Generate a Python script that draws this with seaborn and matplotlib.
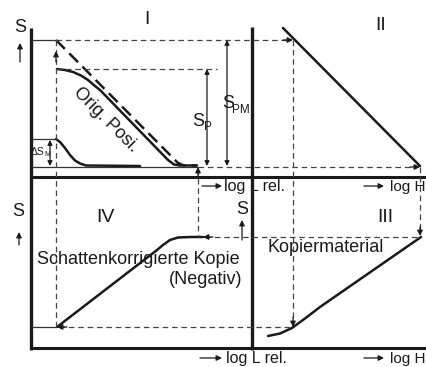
import matplotlib
matplotlib.use("Agg")
import matplotlib.pyplot as plt
import seaborn as sns

# Quadrant I: original positive, density S over log relative luminance
orig_ideal_x = [56, 178, 184, 197]
orig_ideal_y = [40, 163, 165.5, 165.5]
orig_real_x = [57, 65, 73, 81, 88, 95, 100, 168, 174, 180, 197]
orig_real_y = [69, 70, 72, 75.5, 80, 86, 90, 160, 164.5, 165.5, 165.5]
mask_x = [56, 60, 65, 70, 75, 80, 86, 140]
mask_y = [139, 142, 148, 155, 160.5, 163.5, 165.5, 166]

# Quadrant II: density transferred to log exposure H
transfer_x = [283, 420]
transfer_y = [28, 166]

# Quadrant III: copy material characteristic
copy_x = [268, 280, 292, 305, 320, 421]
copy_y = [336, 333.5, 328, 318.5, 307, 237]

# Quadrant IV: shadow-corrected copy (negative)
neg_x = [57, 157, 163, 170, 178, 190, 203]
neg_y = [327, 250, 245, 240, 237.5, 237, 237]

# reference levels of the construction
s_top, s_p_top, s_m_top, s_base = 40, 69, 139, 166
copy_top, copy_low = 237, 327
l_start, l_end, h_start, h_end = 56, 198, 293, 420
x_left, x_mid, y_mid, y_bot = 31, 252, 177, 348

sns.set_theme(style="white")
plt.rcParams["font.family"] = ["Liberation Sans", "DejaVu Sans"]

fig = plt.figure(figsize=(4.27, 3.67), dpi=100)
ax = fig.add_axes([0, 0, 1, 1])
ax.set_xlim(0, 427)
ax.set_ylim(367, 0)
ax.axis("off")

K = "#1a1a1a"
dash = dict(color="#444444", lw=0.9, ls=(0, (4.5, 3)))
thin = dict(color="#333333", lw=0.9)

# main axes of the four quadrants
ax.plot([x_left, x_left], [28, y_bot + 1.5], color=K, lw=2.4, solid_capstyle="butt")
ax.plot([x_mid, x_mid], [27, y_bot + 1.5], color=K, lw=2.4, solid_capstyle="butt")
ax.plot([x_left, 427], [y_mid, y_mid], color=K, lw=2.2)
ax.plot([x_left, 427], [y_bot, y_bot], color=K, lw=2.2)

# curves
for xs, ys, ls in [(orig_ideal_x, orig_ideal_y, (0, (5, 2.5))),
                   (orig_real_x, orig_real_y, "-"),
                   (mask_x, mask_y, "-"),
                   (transfer_x, transfer_y, "-"),
                   (copy_x, copy_y, "-"),
                   (neg_x, neg_y, "-")]:
    sns.lineplot(x=xs, y=ys, sort=False, estimator=None, ax=ax,
                 color=K, lw=1.8, linestyle=ls)

# solid short level lines at the S axis
ax.plot([x_left, l_start], [s_top, s_top], **thin)
ax.plot([x_left, l_start], [s_m_top, s_m_top], **thin)
ax.plot([x_left, l_end], [s_base + 1, s_base + 1], **thin)
ax.plot([x_left, l_start], [copy_low, copy_low], **thin)

# dashed construction lines
ax.plot([l_start, h_start - 3], [s_top, s_top], **dash)
ax.plot([l_start, 217], [s_p_top, s_p_top], **dash)
ax.plot([l_end, h_end - 3], [s_base + 1, s_base + 1], **dash)
ax.plot([l_start, l_start], [s_top, copy_low], **dash)
ax.plot([l_end, l_end], [s_base + 3, copy_top], **dash)
ax.plot([h_start, h_start], [s_top, copy_low - 3], **dash)
ax.plot([h_end, h_end], [s_base + 1, copy_top - 3], **dash)
ax.plot([neg_x[-1] + 2, h_end], [copy_top, copy_top], **dash)
ax.plot([neg_x[0] + 2, h_start], [copy_low, copy_low], **dash)


def head(x0, y0, x1, y1, ms=8):
    ax.annotate("", xy=(x1, y1), xytext=(x0, y0),
                arrowprops=dict(arrowstyle="-|>", color=K, lw=0.9,
                                mutation_scale=ms, shrinkA=0, shrinkB=0))


def double(x, y0, y1):
    ax.annotate("", xy=(x, y1), xytext=(x, y0),
                arrowprops=dict(arrowstyle="<|-|>", color=K, lw=0.9,
                                mutation_scale=7, shrinkA=0, shrinkB=0))


# arrowheads on the construction lines
head(h_start - 10, s_top, h_start, s_top)
head(h_end - 10, s_base + 1, h_end, s_base + 1)
head(h_start, copy_low - 10, h_start, copy_low)
head(h_end, copy_top - 10, h_end, copy_top - 1)
head(neg_x[-1] + 10, copy_top, neg_x[-1], copy_top)
head(neg_x[0] + 10, copy_low, neg_x[0], copy_low)
head(l_end, s_base + 12, l_end, s_base + 1)
head(l_start, 62, l_start, 51)

# measured ranges
double(207, s_p_top, s_base)
double(227, s_top, s_base)
double(50, s_m_top + 1, s_base)

# axis arrows
head(20, 62, 20, 43)
head(19, 245, 19, 232)
head(242, 240, 242, 220)
head(202, 186, 222, 186)
head(364, 186, 384, 186)
head(200, 358, 222, 358)
head(364, 358, 384, 358)

fs = 13
ax.text(20, 27, "S", fontsize=fs, ha="center", va="center", color=K)
ax.text(18, 211, "S", fontsize=fs, ha="center", va="center", color=K)
ax.text(242, 209, "S", fontsize=fs, ha="center", va="center", color=K)

ax.text(147, 20, "I", fontsize=fs + 1, ha="center", va="center", color=K)
ax.text(381, 25, "II", fontsize=fs + 1, ha="center", va="center", color=K)
ax.text(385, 217, "III", fontsize=fs + 1, ha="center", va="center", color=K)
ax.text(105, 217, "IV", fontsize=fs + 1, ha="center", va="center", color=K)

ax.text(106, 120, "Orig. Posi.", fontsize=fs, rotation=-45,
        rotation_mode="anchor", ha="center", va="center", color=K)
ax.text(198, 122, "S", fontsize=fs, ha="center", va="center", color=K)
ax.text(208, 127, "P", fontsize=8.5, ha="center", va="center", color=K)
ax.text(228, 104, "S", fontsize=fs, ha="center", va="center", color=K)
ax.text(241, 110, "PM", fontsize=8.5, ha="center", va="center", color=K)
ax.text(44.5, 152, "ΔS", fontsize=7.5, ha="right", va="center", color=K)
ax.text(44.8, 154.5, "M", fontsize=5, ha="left", va="center", color=K)

ax.text(37, 260, "Schattenkorrigierte Kopie", fontsize=fs, ha="left",
        va="center", color=K)
ax.text(242, 280, "(Negativ)", fontsize=fs, ha="right", va="center", color=K)
ax.text(268, 248, "Kopiermaterial", fontsize=fs, ha="left", va="center",
        color=K)

lfs = 11.5
ax.text(224, 187, "log L rel.", fontsize=lfs, ha="left", va="center", color=K)
ax.text(226, 359, "log L rel.", fontsize=lfs, ha="left", va="center", color=K)
ax.text(426, 187, "log H", fontsize=11, ha="right", va="center", color=K)
ax.text(426, 359, "log H", fontsize=11, ha="right", va="center", color=K)

fig.savefig("out.png", dpi=100, facecolor="white")
